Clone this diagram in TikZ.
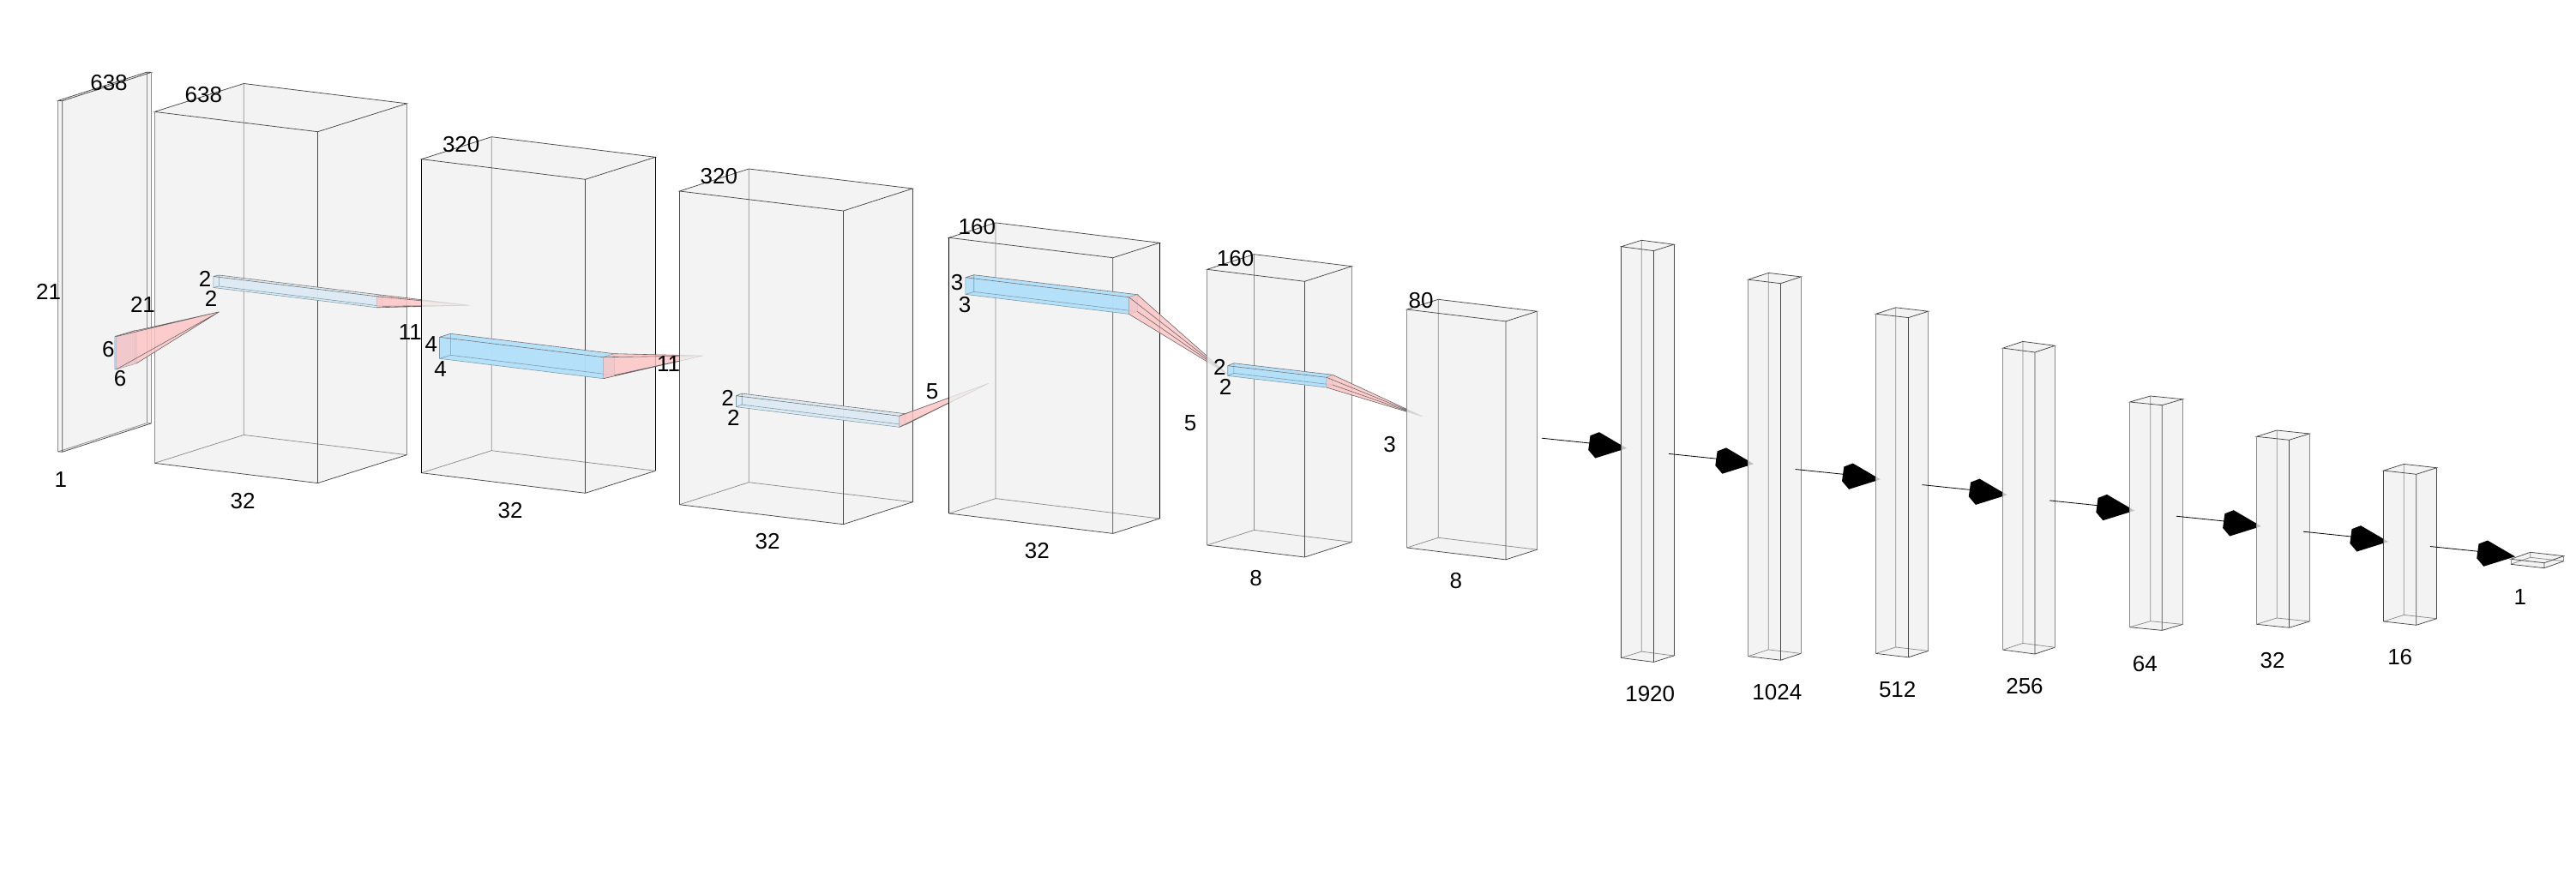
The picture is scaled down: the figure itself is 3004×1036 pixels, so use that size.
\documentclass[tikz,border=0pt]{standalone}
\usepackage{fontspec}
\setmainfont{Liberation Sans}
\usetikzlibrary{calc}
\definecolor{cubefill}{HTML}{F0F0F0}
\definecolor{beamstrong}{HTML}{B2E0FA}
\definecolor{beampale}{HTML}{DCEAF4}
\definecolor{conepink}{HTML}{FFC4C4}
\definecolor{beamline}{HTML}{7F9BAA}
\tikzset{
  lbl/.style={inner sep=0pt,font=\fontsize{26}{30}\selectfont,text=black},
  darkedge/.style={draw=black!72,line width=0.75pt},
  softedge/.style={draw=black!45,line width=0.75pt},
  strongedge/.style={draw=black,line width=1pt},
  beamedge/.style={draw=beamline,line width=0.6pt},
  coneedge/.style={draw=black!60,line width=0.6pt},
  flow/.style={draw=black,line width=0.8pt}
}
\newcommand{\setcorners}[5]{%
  \coordinate (#1L) at (#2);
  \coordinate (#1F) at (#3);
  \coordinate (#1R) at (#4);
  \coordinate (#1B) at ($(#1L)+(#1R)-(#1F)$);
  \coordinate (#1l) at ($(#1L)+(0,#5)$);
  \coordinate (#1f) at ($(#1F)+(0,#5)$);
  \coordinate (#1r) at ($(#1R)+(0,#5)$);
  \coordinate (#1b) at ($(#1B)+(0,#5)$);
}
% name, L, F, R, height, style of the two outer vertical edges
\newcommand{\cube}[6]{%
  \setcorners{#1}{#2}{#3}{#4}{#5}
  \fill[cubefill,opacity=.8] (#1L)--(#1B)--(#1R)--(#1r)--(#1f)--(#1l)--cycle;
  \draw[softedge] (#1B)--(#1b) (#1l)--(#1b)--(#1r);
  \draw[darkedge] (#1L)--(#1F)--(#1R)--(#1B)--cycle (#1F)--(#1f) (#1l)--(#1f)--(#1r);
  \draw[#6] (#1L)--(#1l) (#1R)--(#1r);
}
% name, L, F, R, height, colour
\newcommand{\beam}[6]{%
  \setcorners{#1}{#2}{#3}{#4}{#5}
  \fill[#6,opacity=.95] (#1L)--(#1B)--(#1R)--(#1r)--(#1f)--(#1l)--cycle;
  \draw[beamedge] (#1L)--(#1l)--(#1f)--(#1r)--(#1R) (#1B)--(#1b)--(#1l) (#1b)--(#1r) (#1F)--(#1f);
  \draw[draw=black!55,line width=0.6pt] (#1L)--(#1B)--(#1R)--(#1F)--(#1L);
}
% beam name, apex
\newcommand{\cone}[2]{%
  \coordinate (#1A) at (#2);
  \begin{scope}[transparency group,opacity=.82]
    \fill[conepink] (#1F)--(#1R)--(#1A)--cycle;
    \fill[conepink] (#1R)--(#1r)--(#1A)--cycle;
    \fill[conepink] (#1r)--(#1f)--(#1A)--cycle;
    \fill[conepink] (#1f)--(#1F)--(#1A)--cycle;
  \end{scope}
  \draw[coneedge] (#1F)--(#1A) (#1R)--(#1A) (#1r)--(#1A) (#1f)--(#1A);
}
% name, tip
\newcommand{\flowto}[2]{%
  \coordinate (#1t) at (#2);
  \coordinate (#1s) at ($(#1t)+(-99.1,-11.8)$);
  \coordinate (#1j) at ($(#1t)+(-43,-6)$);
  \draw[flow] (#1s)--(#1j);
  \fill[black] (#1t)--($(#1t)+(-32.1,-18.8)$)--($(#1t)+(-42.5,-14.8)$)--($(#1t)+(-44.8,1.9)$)--($(#1t)+(-36.7,11.5)$)--cycle;
}
\begin{document}
\begin{tikzpicture}[x=1pt,y=-1pt]
\useasboundingbox (0,0) rectangle (3004,1036);
\fill[white] (0,0) rectangle (3004,1036);

\cube{p}{67.7,117.4}{72.7,117.7}{176.4,84.4}{409.5}{softedge}
\cube{a}{180.3,130.4}{370.5,153.7}{474.5,120.8}{409.9}{softedge}
\beam{kp}{133.9,392.5}{135.9,392.5}{159.2,385.6}{38.3}{beamstrong}
\cone{kp}{255.6,363.8}
\beam{ka}{248.8,322.5}{439.3,345.8}{445.8,344.3}{13}{beampale}
\cone{ka}{547.3,356.2}

\cube{b}{491.5,185.7}{682.6,209.3}{764.3,183.3}{366}{strongedge}
\beam{kb}{512.5,393.3}{703.6,416.7}{716.5,412.7}{25}{beamstrong}
\cone{kb}{819.6,415}

\cube{c}{792.4,223}{983.5,246}{1064.3,220}{365.7}{darkedge}
\beam{kc}{858.5,461.7}{1048.7,485.3}{1055.4,482.7}{13}{beampale}
\cone{kc}{1152.7,447.3}

\cube{d}{1106.7,277.3}{1297.8,300.7}{1352.2,283.3}{321.7}{strongedge}
\beam{kd}{1125.9,323.7}{1316.5,346.7}{1326.3,343.7}{19.7}{beamstrong}
\cone{kd}{1430.8,436}

\cube{e}{1407.6,314.3}{1521.4,328.3}{1576.3,310.7}{321.7}{softedge}
\beam{ke}{1431.7,426.7}{1546.9,440.3}{1554,437.3}{11.7}{beamstrong}
\cone{ke}{1658.5,485.7}

\cube{f}{1640.6,361}{1755.9,374.9}{1792.5,363.2}{278}{softedge}
\flowto{fa}{1897,523}
\cube{g}{1890.5,287.7}{1928.4,292.6}{1952.1,285.2}{479.8}{darkedge}
\flowto{fb}{2045.1,541.2}
\cube{h}{2038.6,326.2}{2076.5,330.7}{2100.2,322.9}{439.5}{softedge}
\flowto{fc}{2192.8,559.3}
\cube{i}{2187.5,366.2}{2225.4,370.6}{2248.7,363.2}{396.2}{softedge}
\flowto{fd}{2340.6,577.4}
\cube{j}{2335.6,406.1}{2373,411}{2396.3,403.3}{352}{softedge}
\flowto{fe}{2489.1,595.7}
\cube{k}{2483.6,469}{2521.3,472.7}{2545.4,465.7}{262.7}{softedge}
\flowto{ff}{2636.9,614}
\cube{m}{2631.4,509.3}{2669.5,513.3}{2693.2,506}{219}{softedge}
\flowto{fg}{2785.1,632}
\cube{n}{2779.6,549}{2817.8,553.3}{2841.5,545.7}{176}{darkedge}
\flowto{fh}{2933,649.3}
\cube{o}{2927.9,652.3}{2966.9,656.7}{2989.7,648.7}{6}{softedge}

\node[lbl] (t1) at (56.6,340.9) {21};
\node[lbl] (t2) at (127,96.7) {638};
\node[lbl] (t3) at (237.3,110.5) {638};
\node[lbl] (t4) at (166.5,355) {21};
\node[lbl] (t5) at (239.2,325.5) {2};
\node[lbl] (t6) at (246,348.9) {2};
\node[lbl] (t7) at (126.3,407.8) {6};
\node[lbl] (t8) at (140,441.9) {6};
\node[lbl] (t9) at (70.8,559.8) {1};
\node[lbl] (t10) at (283.2,584.2) {32};
\node[lbl] (t11) at (537.7,169) {320};
\node[lbl] (t12) at (478.4,387.5) {11};
\node[lbl] (t13) at (502.9,402) {4};
\node[lbl] (t14) at (513.6,430.8) {4};
\node[lbl] (t15) at (595,595.7) {32};
\node[lbl] (t16) at (838.4,206) {320};
\node[lbl] (t17) at (779.5,425) {11};
\node[lbl] (t18) at (848.7,464.3) {2};
\node[lbl] (t19) at (855.4,487.7) {2};
\node[lbl] (t20) at (1087,456.7) {5};
\node[lbl] (t21) at (895,632) {32};
\node[lbl] (t22) at (1139.3,265) {160};
\node[lbl] (t23) at (1116,329.3) {3};
\node[lbl] (t24) at (1125,355.7) {3};
\node[lbl] (t25) at (1209.4,642.7) {32};
\node[lbl] (t26) at (1440.6,301.7) {160};
\node[lbl] (t27) at (1422.3,428.3) {2};
\node[lbl] (t28) at (1429,451) {2};
\node[lbl] (t29) at (1388,493.3) {5};
\node[lbl] (t30) at (1464.7,675) {8};
\node[lbl] (t31) at (1657,351) {80};
\node[lbl] (t32) at (1620.5,518.3) {3};
\node[lbl] (t33) at (1697.8,677.7) {8};
\node[lbl] (t34) at (1924.2,810) {1920};
\node[lbl] (t35) at (2072.3,807.9) {1024};
\node[lbl] (t36) at (2212.7,804.2) {512};
\node[lbl] (t37) at (2361,800.7) {256};
\node[lbl] (t38) at (2501.4,774.3) {64};
\node[lbl] (t39) at (2650,770.7) {32};
\node[lbl] (t40) at (2798.7,767) {16};
\node[lbl] (t41) at (2938.9,697) {1};
\end{tikzpicture}
\end{document}
